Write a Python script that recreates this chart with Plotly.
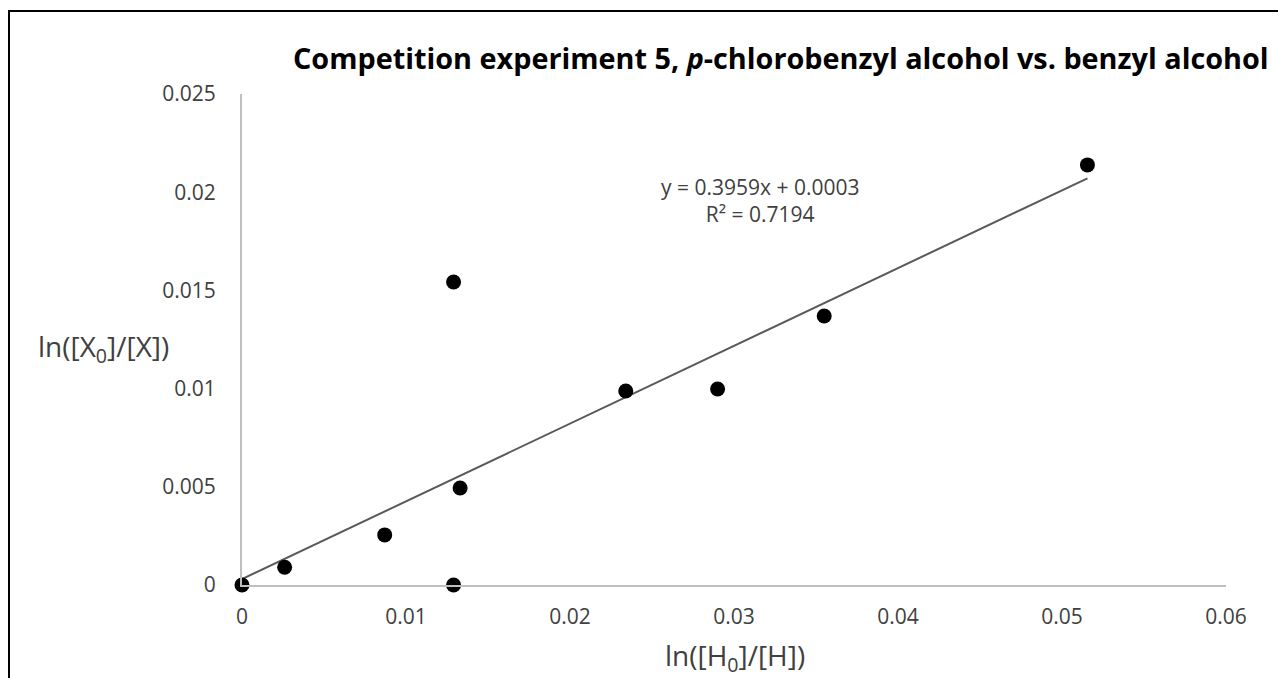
import plotly.graph_objects as go

# Data
x_vals = [0.0, 0.0026, 0.0087, 0.0129, 0.0133, 0.0129, 0.0234, 0.0290, 0.0355, 0.05155]
y_vals = [0.0, 0.0009, 0.00255, 0.0, 0.00494, 0.01543, 0.00988, 0.00998, 0.0137, 0.02139]

trend_slope = 0.3959
trend_intercept = 0.0003
r_squared = 0.7194

x_ticks = [0, 0.01, 0.02, 0.03, 0.04, 0.05, 0.06]
x_tick_labels = ["0", "0.01", "0.02", "0.03", "0.04", "0.05", "0.06"]
y_ticks = [0, 0.005, 0.01, 0.015, 0.02, 0.025]
y_tick_labels = ["0", "0.005", "0.01", "0.015", "0.02", "0.025"]

title_text = "Competition experiment 5, <i>p</i>-chlorobenzyl alcohol vs. benzyl alcohol"
x_title = "ln([H<sub>0</sub>]/[H])"
y_title = "ln([X<sub>0</sub>]/[X])"

W, H = 1278, 678
ML, MR, MT, MB = 242, 52, 94, 93
PW = W - ML - MR
PH = H - MT - MB

def px_x(p):
    return (p - ML) / PW

def px_y(p):
    return (H - MB - p) / PH

FONT = "Open Sans"
TXT = "#404040"

fig = go.Figure()

x_end = max(x_vals)
fig.add_trace(go.Scatter(
    x=[0, x_end],
    y=[trend_intercept, trend_slope * x_end + trend_intercept],
    mode="lines",
    line=dict(color="#595959", width=2),
    hoverinfo="skip",
    showlegend=False,
))

fig.add_trace(go.Scatter(
    x=x_vals, y=y_vals, mode="markers",
    marker=dict(color="black", size=15, line=dict(width=0)),
    showlegend=False,
    cliponaxis=False,
))

fig.update_layout(
    width=W, height=H,
    margin=dict(l=ML, r=MR, t=MT, b=MB),
    paper_bgcolor="white", plot_bgcolor="white",
    font=dict(family=FONT, color=TXT, size=21),
    showlegend=False,
    xaxis=dict(
        range=[0, 0.06], tickvals=x_ticks, ticktext=x_tick_labels,
        showgrid=False, zeroline=False, showline=True,
        linecolor="#bfbfbf", linewidth=2, ticks="", ticklabelstandoff=12,
        tickfont=dict(family=FONT, size=21, color=TXT),
    ),
    yaxis=dict(
        range=[0, 0.025], tickvals=y_ticks, ticktext=y_tick_labels,
        showgrid=False, zeroline=False, showline=True,
        linecolor="#bfbfbf", linewidth=2, ticks="", ticklabelstandoff=20,
        tickfont=dict(family=FONT, size=21, color=TXT),
    ),
    shapes=[dict(
        type="rect", xref="paper", yref="paper",
        x0=px_x(9), x1=px_x(1300), y0=px_y(700), y1=px_y(11),
        line=dict(color="black", width=2), fillcolor="rgba(0,0,0,0)",
        layer="above",
    )],
    annotations=[
        dict(text="<b>" + title_text + "</b>", xref="paper", yref="paper",
             x=px_x(1271), y=px_y(57), xanchor="right", yanchor="middle",
             showarrow=False, font=dict(family=FONT, size=28.8, color="black")),
        dict(text=x_title, xref="paper", yref="paper",
             x=px_x(735), y=px_y(657), xanchor="center", yanchor="middle",
             showarrow=False, font=dict(family=FONT, size=28, color=TXT)),
        dict(text=y_title, xref="paper", yref="paper",
             x=px_x(36), y=px_y(348), xanchor="left", yanchor="middle",
             showarrow=False, font=dict(family=FONT, size=28, color=TXT)),
        dict(text="y = 0.3959x + 0.0003<br>R² = 0.7194", xref="paper", yref="paper",
             x=px_x(760), y=px_y(200), xanchor="center", yanchor="middle",
             showarrow=False, align="center",
             font=dict(family=FONT, size=21, color=TXT)),
    ],
)

fig.write_html("out.html")
